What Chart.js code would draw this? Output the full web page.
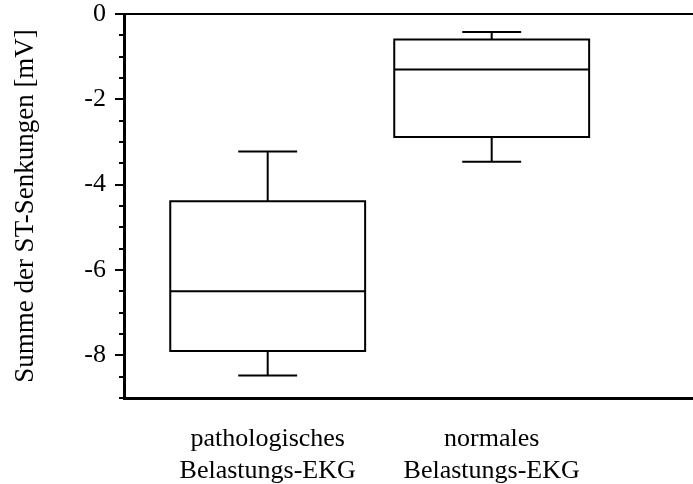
<!DOCTYPE html>
<html>
<head>
<meta charset="utf-8">
<script src="https://cdn.jsdelivr.net/npm/chart.js@4/dist/chart.umd.min.js"></script>
<style>
    html, body { margin: 0; padding: 0; background: #fff; }
    canvas { display: block; }
</style>
</head>
<body>
<canvas id="st-chart" width="693" height="484"></canvas>
<script>
    const categories = [
        ['pathologisches', 'Belastungs-EKG'],
        ['normales', 'Belastungs-EKG']
    ];
    const whiskerLow = [-8.47, -3.46];
    const quartile1 = [-7.90, -2.88];
    const medians = [-6.50, -1.30];
    const quartile3 = [-4.39, -0.60];
    const whiskerHigh = [-3.22, -0.42];
    const yTickLabels = [0, -2, -4, -6, -8];

    Chart.defaults.font.family = "'Liberation Serif', 'Times New Roman', serif";
    Chart.defaults.font.size = 26;
    Chart.defaults.color = '#000';

    const BOX_HALF = 0.435;
    const CAP_HALF = 0.127;

    // one polyline per box, broken into pieces by null points
    function boxOutline(i) {
        const x = i + 1;
        const lo = whiskerLow[i], q1 = quartile1[i], med = medians[i], q3 = quartile3[i], hi = whiskerHigh[i];
        const gap = { x: x, y: null };
        return [
            { x: x - BOX_HALF, y: q1 }, { x: x + BOX_HALF, y: q1 }, { x: x + BOX_HALF, y: q3 },
            { x: x - BOX_HALF, y: q3 }, { x: x - BOX_HALF, y: q1 }, gap,
            { x: x - BOX_HALF, y: med }, { x: x + BOX_HALF, y: med }, gap,
            { x: x, y: q3 }, { x: x, y: hi }, gap,
            { x: x - CAP_HALF, y: hi }, { x: x + CAP_HALF, y: hi }, gap,
            { x: x, y: q1 }, { x: x, y: lo }, gap,
            { x: x - CAP_HALF, y: lo }, { x: x + CAP_HALF, y: lo }, gap
        ];
    }

    const points = [];
    categories.forEach((c, i) => points.push(...boxOutline(i)));

    new Chart(document.getElementById('st-chart'), {
        type: 'scatter',
        data: {
            datasets: [{
                data: points,
                showLine: true,
                spanGaps: false,
                borderColor: '#000',
                borderWidth: 2,
                borderJoinStyle: 'miter',
                borderCapStyle: 'square',
                pointRadius: 0,
                pointHoverRadius: 0,
                tension: 0
            }]
        },
        options: {
            responsive: false,
            animation: false,
            events: [],
            layout: { padding: { top: 14, right: 0, bottom: 0, left: 0 } },
            plugins: {
                legend: { display: false },
                tooltip: { enabled: false }
            },
            scales: {
                x: {
                    type: 'linear',
                    position: 'bottom',
                    min: 0.3585,
                    max: 2.8987,
                    afterBuildTicks: scale => {
                        scale.ticks = categories.map((c, i) => ({ value: i + 1 }));
                    },
                    afterFit: scale => { scale.height = 86; },
                    ticks: {
                        autoSkip: false,
                        maxRotation: 0,
                        padding: 18,
                        callback: v => categories[v - 1]
                    },
                    grid: { display: false },
                    border: { display: true, color: '#000', width: 3 }
                },
                y: {
                    min: -9,
                    max: 0,
                    afterFit: scale => {
                        scale.width = 124;
                        scale.paddingTop = 0;
                        scale.paddingBottom = 0;
                    },
                    ticks: {
                        stepSize: 0.5,
                        autoSkip: false,
                        padding: 9,
                        callback: v => yTickLabels.includes(v) ? String(v) : ''
                    },
                    grid: {
                        drawOnChartArea: true,
                        color: ctx => (ctx.tick && ctx.tick.value === 0) ? '#000' : 'rgba(0,0,0,0)',
                        lineWidth: 2,
                        tickColor: '#000',
                        tickWidth: 2,
                        tickLength: 9,
                        tickBorderDash: ctx => (ctx.tick && ctx.tick.value % 2 === 0) ? [] : [0, 4, 6, 100]
                    },
                    border: { display: true, color: '#000', width: 3 },
                    title: {
                        display: true,
                        text: 'Summe der ST-Senkungen [mV]',
                        font: { size: 27 },
                        padding: { top: 10, bottom: 0 }
                    }
                }
            }
        }
    });
</script>
</body>
</html>
